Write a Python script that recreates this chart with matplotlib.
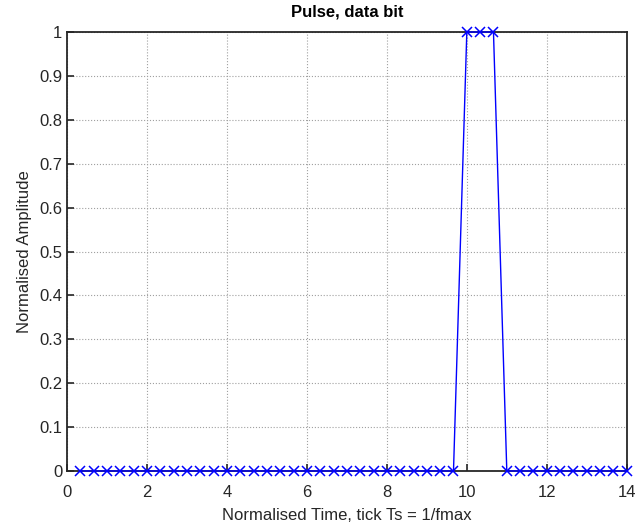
import numpy as np
import matplotlib.pyplot as plt

plt.rcParams['font.family'] = ['Liberation Sans', 'DejaVu Sans']

# Sampled pulse, 3 samples per Ts
samples_per_ts = 3
amplitude = [0] * 29 + [1, 1, 1] + [0] * 10
t = np.arange(1, len(amplitude) + 1) / samples_per_ts

xticks = [0, 2, 4, 6, 8, 10, 12, 14]
yticks = [0, 0.1, 0.2, 0.3, 0.4, 0.5, 0.6, 0.7, 0.8, 0.9, 1]
ytick_labels = ['0', '0.1', '0.2', '0.3', '0.4', '0.5', '0.6', '0.7', '0.8', '0.9', '1']

fig = plt.figure(figsize=(6.35, 5.25), dpi=100)
ax = fig.add_axes([0.1055, 0.1029, 0.8815, 0.8361])

ax.plot(t, amplitude, color='#0000ff', linewidth=1.0, marker='x',
        markersize=7, markeredgewidth=1.1, clip_on=False, zorder=3)

ax.set_xlim(0, 14)
ax.set_ylim(0, 1)
ax.set_xticks(xticks)
ax.set_yticks(yticks)
ax.set_yticklabels(ytick_labels)
ax.tick_params(direction='in', length=5, width=1.2, labelsize=12, colors='#262626',
               top=False, right=False)
ax.tick_params(axis='x', pad=10)
ax.grid(True, linestyle=':', color='#a0a0a0', linewidth=0.8)
for s in ax.spines.values():
    s.set_color('#262626')
    s.set_linewidth(1.3)

ax.set_xlabel('Normalised Time, tick Ts = 1/fmax', fontsize=12, color='#262626', labelpad=6)
ax.set_ylabel('Normalised Amplitude', fontsize=12, color='#262626', labelpad=5)
ax.set_title('Pulse, data bit', fontsize=12, fontweight='bold', pad=11)

fig.savefig('out.png', dpi=100)
